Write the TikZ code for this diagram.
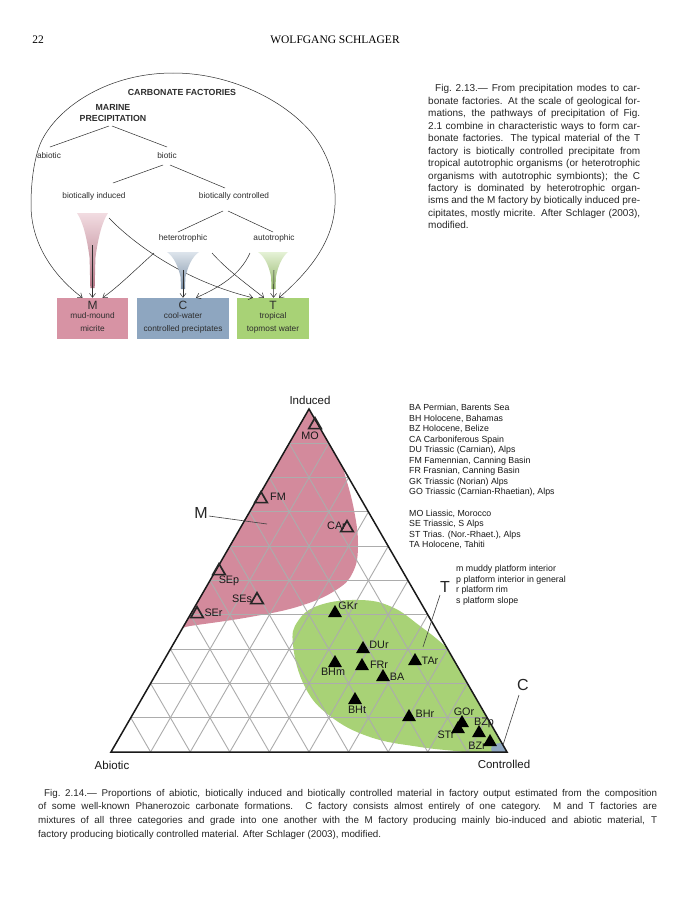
\documentclass[tikz,border=0pt]{standalone}
\usepackage{fontspec}
\setmainfont{Liberation Sans}
\newfontfamily\hdserif{Liberation Serif}
\usetikzlibrary{arrows.meta,shapes.geometric,calc}
\definecolor{mpink}{RGB}{211,138,156}
\definecolor{tgreen}{RGB}{168,210,118}
\definecolor{cblue}{RGB}{142,166,192}
\definecolor{gridg}{RGB}{172,172,172}
\definecolor{ink}{RGB}{45,45,45}

\begin{document}
\begin{tikzpicture}[x=1pt, y=-1pt,
    lbl/.style={font=\fontsize{8.3}{10}\selectfont, text=ink, inner sep=1pt},
    hd/.style={font=\fontsize{8.8}{10.5}\selectfont\bfseries, text=ink, align=center, inner sep=1pt},
    ln/.style={draw=ink, line width=0.5pt},
    arr/.style={ln, -{Straight Barb[length=4pt,width=6pt]}},
    fbox/.style={minimum height=41pt, inner sep=0pt},
    ftxt/.style={font=\fontsize{8.3}{13}\selectfont, text=ink, align=center, inner sep=0pt},
    fbig/.style={font=\fontsize{12}{12}\selectfont, text=ink, inner sep=0pt},
    capt/.style={text=black!85, align=justify, inner sep=0pt, anchor=north west},
    leg/.style={font=\fontsize{8.8}{10.5}\selectfont, text=black!90, align=left, inner sep=0pt, anchor=north west},
    grd/.style={draw=gridg, line width=0.9pt},
    triline/.style={draw=black!90, line width=1.5pt},
    opn/.style={regular polygon, regular polygon sides=3, draw=black!85, line width=1.7pt, minimum size=14.5pt, inner sep=0pt},
    fil/.style={regular polygon, regular polygon sides=3, fill=black, minimum size=16pt, inner sep=0pt},
    ptl/.style={font=\fontsize{10.8}{12}\selectfont, text=black!90, inner sep=0pt},
    crn/.style={font=\fontsize{11.5}{12}\selectfont, text=black!90, inner sep=0pt},
    bigl/.style={font=\fontsize{16}{16}\selectfont, text=black!85, inner sep=0pt},
    ptr/.style={draw=black!75, line width=0.6pt}
]
\useasboundingbox (0,0) rectangle (695,900);
\fill[white] (0,0) rectangle (695,900);

% running head
\node[font=\hdserif\fontsize{11.5}{12}\selectfont] (pgno) at (38,40) {22};
\node[font=\hdserif\fontsize{11.5}{12}\selectfont] (runhead) at (335,40) {WOLFGANG SCHLAGER};

% ---- Fig. 2.13: pathways to factories
\node[hd] (title) at (182,92) {CARBONATE FACTORIES};
\node[hd] (marine) at (113,113) {MARINE\\PRECIPITATION};
\node[lbl] (abiotic) at (49,156) {abiotic};
\node[lbl] (biotic) at (167,156) {biotic};
\node[lbl] (induced) at (94,196) {biotically induced};
\node[lbl] (controlled) at (234,196) {biotically controlled};
\node[lbl] (hetero) at (183,238) {heterotrophic};
\node[lbl] (auto) at (274,238) {autotrophic};

\node[fbox, fill=mpink!92, minimum width=71pt] (Mbox) at (92.5,318.5) {};
\node[fbox, fill=cblue, minimum width=92pt] (Cbox) at (183,318.5) {};
\node[fbox, fill=tgreen, minimum width=72pt] (Tbox) at (273,318.5) {};
\node[fbig] (Mlet) at (92.5,305.5) {M};
\node[fbig] (Clet) at (183,305.5) {C};
\node[fbig] (Tlet) at (273,305.5) {T};
\node[ftxt] (Mdesc) at (92.5,322.5) {mud-mound\\micrite};
\node[ftxt] (Cdesc) at (183,322.5) {cool-water\\controlled preciptates};
\node[ftxt] (Tdesc) at (273,322.5) {tropical\\topmost water};

\draw[ln] ([shift={(-4,13)}]marine.center) -- ([shift={(1,-9)}]abiotic.center);
\draw[ln] ([shift={(-1,13)}]marine.center) -- ([shift={(0,-9)}]biotic.center);
\draw[ln] ([shift={(-4,9)}]biotic.center) -- ([shift={(19,-13)}]induced.center);
\draw[ln] ([shift={(3,9)}]biotic.center) -- ([shift={(-9,-8)}]controlled.center);
\draw[ln] ([shift={(-11,15)}]controlled.center) -- ([shift={(-5,-6)}]hetero.center);
\draw[ln] ([shift={(-6,15)}]controlled.center) -- ([shift={(-1,-6)}]auto.center);

\coordinate (arctop) at (173,73);
\draw[arr] (arctop) .. controls (110,73) and (60,105) .. (42,140)
    .. controls (36,152) and (31,175) .. (31,205)
    .. controls (31,245) and (55,277) .. ([xshift=-10pt]Mbox.north);
\draw[arr] (arctop) .. controls (240,73) and (300,110) .. (320,145)
    .. controls (332,165) and (336,185) .. (335,205)
    .. controls (333,245) and (305,275) .. ([xshift=6pt]Tbox.north);

\draw[arr] ([shift={(15,22)}]induced.center) .. controls (130,240) and (180,280) .. ([xshift=-20pt]Tbox.north);
\draw[arr] ([shift={(-29,15)}]hetero.center) .. controls (135,270) and (118,287) .. ([xshift=10pt]Mbox.north);
\draw[arr] ([shift={(29,15)}]hetero.center) .. controls (227,270) and (248,285) .. ([xshift=-9pt]Tbox.north);
\draw[arr] ([shift={(-24,15)}]auto.center) .. controls (240,275) and (220,287) .. ([xshift=13pt]Cbox.north);

% funnels
\shade[top color=mpink!30, bottom color=mpink!85!black] (77,213) .. controls (83,222) and (87,238) .. (89.6,258)
    -- (90.3,288) -- (94.7,288) -- (95.4,258) .. controls (98,238) and (102,222) .. (108,213) -- cycle;
\shade[top color=cblue!30, bottom color=cblue!85!black] (167,252) .. controls (174,257) and (178,266) .. (180.6,277)
    -- (181,289) -- (185,289) -- (185.4,277) .. controls (188,266) and (192,257) .. (199,252) -- cycle;
\shade[top color=tgreen!30, bottom color=tgreen!85!black] (258,252) .. controls (265,257) and (269,266) .. (271.1,277)
    -- (271.5,289) -- (275.5,289) -- (275.9,277) .. controls (278,266) and (282,257) .. (288,252) -- cycle;
\coordinate (Mfun) at (92.5,245);
\coordinate (Cfun) at (183,270);
\coordinate (Tfun) at (273.5,270);
\draw[arr] (Mfun) -- (Mbox.north);
\draw[arr] (Cfun) -- (Cbox.north);
\draw[arr] ([xshift=0.5pt]Tfun) -- ([xshift=0.5pt]Tbox.north);

\node[capt, font=\fontsize{10}{12.45}\selectfont, text width=212pt] (cap13) at (428,84.5) {\hspace*{7pt}Fig.\ 2.13.— From precipitation modes to car-\linebreak
bonate factories.  At the scale of geological for-\linebreak
mations, the pathways of precipitation of Fig.\linebreak
2.1 combine in characteristic ways to form car-\linebreak
bonate factories.  The typical material of the T\linebreak
factory is biotically controlled precipitate from\linebreak
tropical autotrophic organisms (or heterotrophic\linebreak
organisms with autotrophic symbionts); the C\linebreak
factory is dominated by heterotrophic organ-\linebreak
isms and the M factory by biotically induced pre-\linebreak
cipitates, mostly micrite.  After Schlager (2003),\linebreak
modified.};

% ---- Fig. 2.14: ternary plot
\coordinate (Ab) at (111,752);
\coordinate (Co) at (507,752);
\coordinate (In) at (309,409);

\begin{scope}
\clip (Ab) -- (Co) -- (In) -- cycle;
\fill[mpink] plot[smooth cycle, tension=0.7] coordinates {(309,395) (334,440) (345,475) (354,510) (358,545)
    (353,572) (336,590) (300,606) (250,617) (190,626) (150,632) (215,520) (270,440)};
\fill[tgreen] plot[smooth cycle, tension=0.7] coordinates {(293,645) (298,621) (320,605) (360,600) (392,607)
    (420,626) (445,646) (475,675) (515,745) (505,762) (470,753) (420,747) (370,737) (330,716) (305,687)};
\fill[cblue] (501,749) ellipse [x radius=10, y radius=6];
\end{scope}

\foreach \i in {1,...,9}{
  \draw[grd] ($(Ab)!\i/10!(In)$) -- ($(Co)!\i/10!(In)$);
  \draw[grd] ($(Ab)!\i/10!(Co)$) -- ($(Ab)!\i/10!(In)$);
  \draw[grd] ($(Co)!\i/10!(Ab)$) -- ($(Co)!\i/10!(In)$);
}
\draw[triline] (Ab) -- (Co) -- (In) -- cycle;

\node[crn] (lInd) at (310,400) {Induced};
\node[crn] (lAb) at (112,765) {Abiotic};
\node[crn] (lCo) at (504,764) {Controlled};

% sample labels, then symbols
\foreach \x/\y/\t in {310/436/MO, 278/497/FM, 336.5/526/CAr, 229/581/SEp, 242/599/SEs, 213.5/613/SEr,
    348/606/GKr, 379/645/DUr, 333/672/BHm, 379/665/FRr, 397/677/BA, 430/661/TAr, 357/710/BHt,
    425/714/BHr, 464/712/GOr, 446/735/STr, 484/723/BZp, 477/746/BZr}
  \node[ptl] (t\t) at (\x,\y) {\t};
\foreach \x/\y/\n in {315/425/MO, 261/499/FM, 347/528/CAr, 219/571/SEp, 257/600/SEs, 197/614/SEr}
  \node[opn] (s\n) at (\x,\y) {};
\foreach \x/\y/\n in {335/613/GKr, 363/649/DUr, 335/663/BHm, 362/666/FRr, 383/677/BA, 415/661/TAr,
    355/700/BHt, 409/717/BHr, 462/723/GOr, 458/729/STr, 479/733/BZp, 490/742/BZr}
  \node[fil] (s\n) at (\x,\y) {};

\node[bigl] (Mlab) at (201,513) {M};
\node[bigl] (Tlab) at (445,587) {T};
\node[bigl] (Clab) at (523,685) {C};
\coordinate (Mpt) at (267,524);
\coordinate (Tpt) at (423,647);
\coordinate (Cpt) at (503,745);
\draw[ptr] ([shift={(1,3)}]Mlab.east) -- (Mpt);
\draw[ptr] ([shift={(-5,8)}]Tlab.center) -- (Tpt);
\draw[ptr] ([shift={(-4,10)}]Clab.center) -- (Cpt);

\node[leg] (legA) at (409,404) {BA Permian, Barents Sea\\
BH Holocene, Bahamas\\
BZ Holocene, Belize\\
CA Carboniferous Spain\\
DU Triassic (Carnian), Alps\\
FM Famennian, Canning Basin\\
FR Frasnian, Canning Basin\\
GK Triassic (Norian) Alps\\
GO Triassic (Carnian-Rhaetian), Alps\\[11pt]
MO Liassic, Morocco\\
SE Triassic, S Alps\\
ST Trias. (Nor.-Rhaet.), Alps\\
TA Holocene, Tahiti};
\node[leg] (legB) at (456,565) {m muddy platform interior\\
p platform interior in general\\
r platform rim\\
s platform slope};

\node[capt, font=\fontsize{9.8}{13.6}\selectfont, text width=619pt] (cap14) at (38,789) {\hspace*{6pt}Fig.\ 2.14.— Proportions of abiotic, biotically induced and biotically controlled material in factory output estimated from the composition\linebreak
of some well-known Phanerozoic carbonate formations.  C factory consists almost entirely of one category.  M and T factories are\linebreak
mixtures of all three categories and grade into one another with the M factory producing mainly bio-induced and abiotic material, T\linebreak
factory producing biotically controlled material. After Schlager (2003), modified.};
\end{tikzpicture}
\end{document}
